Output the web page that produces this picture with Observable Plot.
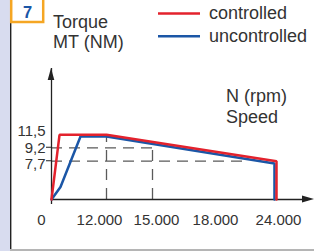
<!DOCTYPE html>
<html>
<head>
<meta charset="utf-8">
<script src="https://cdn.jsdelivr.net/npm/d3@7"></script>
<script src="https://cdn.jsdelivr.net/npm/@observablehq/plot@0.6"></script>
<style>
  html, body { margin: 0; padding: 0; background: #fff; }
  #wrap { position: relative; width: 314px; height: 251px; overflow: hidden; background: #fff; }
  #wrap > svg { position: absolute; left: 0; top: 0; }
</style>
</head>
<body>
<div id="wrap"></div>
<script>
// ---- data ----
const speedTicks = [0, 12000, 15000, 18000, 24000];
const torqueTicks = [11.5, 9.2, 7.7];
const seriesNames = ["controlled", "uncontrolled"];
const controlledSpeed = [0, 1750, 12000, 24000, 24000];
const controlledTorque = [0, 11.5, 11.5, 7.7, 0];
const uncontrolledSpeed = [0, 1960, 6330, 12000, 23810, 23810];
const uncontrolledTorque = [0, 2.5, 11.2, 11.2, 7.25, 0];
// dashed reference lines
const refVSpeed = [12000, 15000];
const refVTorque = [11.5, 9.2];
const refHTorque = [9.2, 7.7];
const refHSpeed = [15000, 21200];
const yTitle = ["Torque", "MT (NM)"];
const xTitle = ["N (rpm)", "Speed"];
const panelNumber = "7";

const RED = "#e3222d", BLUE = "#1b56a6", INK = "#333", DASH = "#5a5a5a";
const FONT = "'Liberation Sans', Arial, sans-serif";

const controlled = controlledSpeed.map((s, i) => ({speed: s, torque: controlledTorque[i]}));
const uncontrolled = uncontrolledSpeed.map((s, i) => ({speed: s, torque: uncontrolledTorque[i]}));
const vRefs = refVSpeed.map((s, i) => ({speed: s, torque: refVTorque[i]}));
const hRefs = refHTorque.map((t, i) => ({speed: refHSpeed[i], torque: t}));

const fmtX = d => d3.format(",")(d).replace(/,/g, ".");
const fmtY = d => String(d).replace(".", ",");

// schematic label nudges (the drawing spaces its labels evenly)
const xLabelNudge = [-10, -7, 4, 3, 2];
const yLabelNudge = [-4, 0, 3];

const xLabelMarks = speedTicks.map((t, i) => Plot.text([t], {
  x: d => d, y: () => 0, text: d => fmtX(d), textAnchor: "middle", lineAnchor: "top",
  dx: xLabelNudge[i], dy: 15, fill: INK, fontSize: 15
}));
const yLabelMarks = torqueTicks.map((t, i) => Plot.text([t], {
  x: () => 0, y: d => d, text: d => fmtY(d), textAnchor: "end", lineAnchor: "middle",
  dx: -6, dy: yLabelNudge[i], fill: INK, fontSize: 15
}));

const chart = Plot.plot({
  width: 314,
  height: 251,
  marginLeft: 51,
  marginRight: 0,
  marginTop: 68,
  marginBottom: 52,
  x: {type: "linear", domain: speedTicks, range: [51, 106, 152, 212, 276], label: null, axis: null},
  y: {type: "linear", domain: [0, 7.7, 9.2, 11.5], range: [199, 160.7, 147.3, 134.3], label: null, axis: null},
  style: {fontFamily: FONT, fontSize: "15px", color: INK, background: "transparent"},
  marks: [
    // dashed guides
    Plot.ruleX(vRefs, {x: "speed", y1: () => 0, y2: "torque", stroke: DASH, strokeWidth: 1.3, strokeDasharray: "11,8"}),
    Plot.ruleY(hRefs, {y: "torque", x1: () => 0, x2: "speed", stroke: DASH, strokeWidth: 1.3, strokeDasharray: "11,7"}),
    // axes lines
    Plot.ruleX([0], {stroke: "#222", strokeWidth: 1.3, insetBottom: -5}),
    Plot.ruleY([0], {stroke: "#222", strokeWidth: 1.3, insetRight: 6}),
    ...xLabelMarks,
    ...yLabelMarks,
    // curves
    Plot.line(uncontrolled, {x: "speed", y: "torque", stroke: BLUE, strokeWidth: 2.5, strokeLinejoin: "miter"}),
    Plot.line(controlled, {x: "speed", y: "torque", stroke: RED, strokeWidth: 2.5, strokeLinejoin: "miter"})
  ]
});

const wrap = document.getElementById("wrap");
wrap.appendChild(chart);

// small tick stubs, arrowheads at the ends of the axes, placed from the scales
const sx = chart.scale("x"), sy = chart.scale("y");
const ox = sx.apply(0), oy = sy.apply(0);
const csel = d3.select(chart);
[9.2, 7.7].forEach(t => {
  csel.append("line").attr("x1", ox - 5).attr("x2", ox).attr("y1", sy.apply(t)).attr("y2", sy.apply(t))
    .attr("stroke", "#444").attr("stroke-width", 1.2);
});
csel.append("polygon").attr("points", `${ox},68 ${ox - 3.3},80 ${ox + 3.3},80`).attr("fill", "#222");
csel.append("polygon").attr("points", `314,${oy} 302,${oy - 3.5} 302,${oy + 3.5}`).attr("fill", "#222");

// decorations, titles and legend
const deco = d3.select(wrap).append("svg").attr("width", 314).attr("height", 251)
  .style("font-family", FONT);
deco.append("rect").attr("x", 0).attr("y", 0).attr("width", 10).attr("height", 251).attr("fill", "#d8dcef");
deco.append("line").attr("x1", 10.7).attr("x2", 10.7).attr("y1", 22).attr("y2", 251).attr("stroke", "#222").attr("stroke-width", 1.4);
deco.append("line").attr("x1", 10).attr("x2", 314).attr("y1", 250).attr("y2", 250).attr("stroke", "#b5b5b5").attr("stroke-width", 2);
deco.append("rect").attr("x", 11.2).attr("y", -2).attr("width", 32).attr("height", 24).attr("fill", "#fff")
  .attr("stroke", "#f5a623").attr("stroke-width", 2.5);
deco.append("text").attr("x", 27.5).attr("y", 17.5).attr("text-anchor", "middle")
  .attr("font-size", 16.5).attr("font-weight", "bold").attr("fill", "#1b56a6").text(panelNumber);

yTitle.forEach((t, i) => deco.append("text").attr("x", 53).attr("y", 28.3 + i * 20)
  .attr("font-size", 18).attr("fill", INK).text(t));
xTitle.forEach((t, i) => deco.append("text").attr("x", 226).attr("y", 102 + i * 21)
  .attr("font-size", 18).attr("fill", INK).text(t));

const legendColors = [RED, BLUE];
seriesNames.forEach((name, i) => {
  const y = 13.5 + i * 22.8;
  deco.append("line").attr("x1", 158).attr("x2", 200).attr("y1", y).attr("y2", y)
    .attr("stroke", legendColors[i]).attr("stroke-width", 2.6);
  deco.append("text").attr("x", 209).attr("y", y + 5.8).attr("font-size", 18).attr("fill", INK).text(name);
});
</script>
</body>
</html>
